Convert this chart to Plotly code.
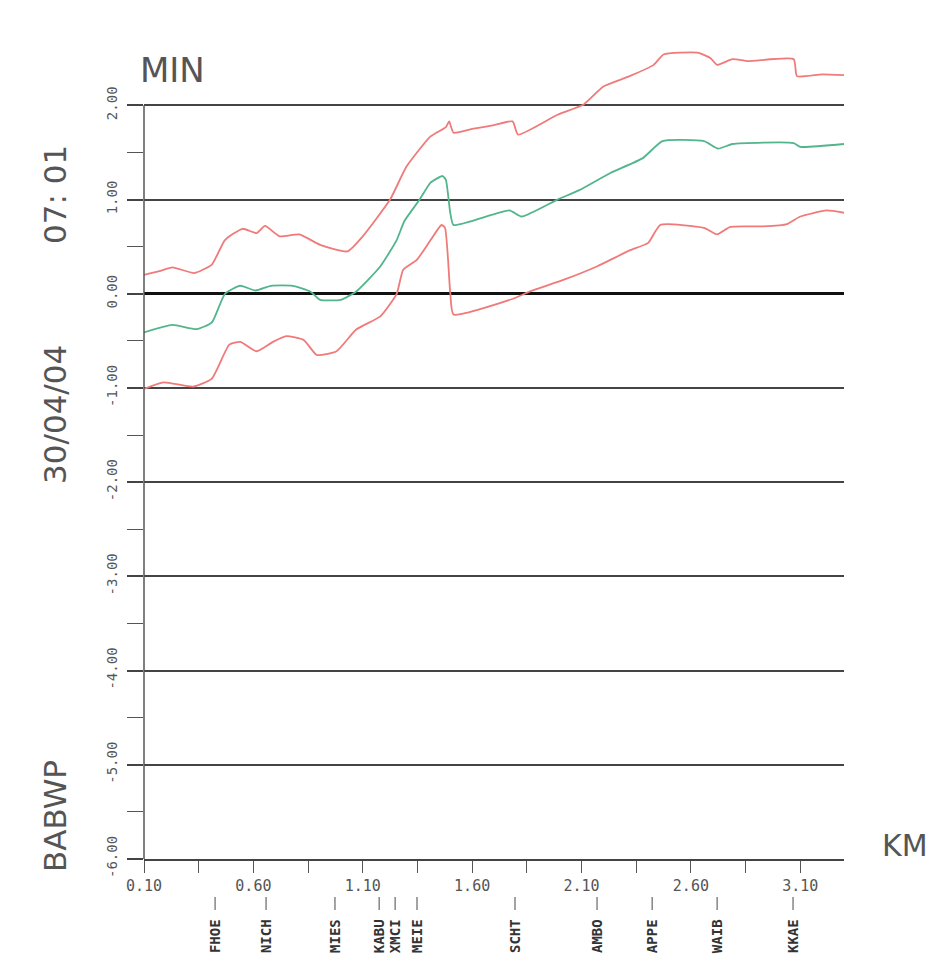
import plotly.graph_objects as go

# Travel-time band along the line (minutes vs. kilometre)
upper_km = [0.10, 0.17, 0.23, 0.33, 0.41, 0.47, 0.55, 0.615, 0.653, 0.72, 0.81, 0.905,
            1.03, 1.10, 1.225, 1.30, 1.41, 1.48, 1.495, 1.515, 1.60, 1.70, 1.785, 1.81,
            1.99, 2.11, 2.20, 2.32, 2.43, 2.475, 2.63, 2.69, 2.72, 2.79, 2.86, 3.07,
            3.085, 3.20, 3.30]
upper_min = [0.20, 0.24, 0.28, 0.22, 0.31, 0.57, 0.69, 0.645, 0.72, 0.61, 0.63, 0.52,
             0.45, 0.61, 1.00, 1.35, 1.67, 1.77, 1.83, 1.71, 1.75, 1.79, 1.83, 1.69,
             1.90, 2.01, 2.20, 2.31, 2.43, 2.54, 2.56, 2.50, 2.43, 2.49, 2.47, 2.49,
             2.31, 2.33, 2.32]

mid_km = [0.10, 0.23, 0.34, 0.41, 0.47, 0.54, 0.61, 0.68, 0.78, 0.86, 0.905, 1.00,
          1.07, 1.18, 1.255, 1.29, 1.36, 1.41, 1.465, 1.48, 1.50, 1.515, 1.77, 1.826,
          1.99, 2.09, 2.23, 2.38, 2.47, 2.66, 2.725, 2.79, 3.07, 3.10, 3.30]
mid_min = [-0.41, -0.33, -0.375, -0.305, 0.0, 0.085, 0.035, 0.085, 0.085, 0.025, -0.064,
           -0.064, 0.025, 0.29, 0.57, 0.77, 1.0, 1.18, 1.25, 1.21, 0.86, 0.73, 0.885,
           0.82, 1.0, 1.10, 1.28, 1.44, 1.62, 1.62, 1.54, 1.59, 1.60, 1.56, 1.59]

lower_km = [0.10, 0.19, 0.325, 0.41, 0.49, 0.54, 0.615, 0.69, 0.75, 0.83, 0.89, 0.98,
            1.07, 1.18, 1.255, 1.285, 1.347, 1.41, 1.46, 1.476, 1.50, 1.515, 1.79,
            1.865, 2.02, 2.17, 2.32, 2.405, 2.46, 2.66, 2.72, 2.78, 2.93, 3.04, 3.10,
            3.22, 3.30]
lower_min = [-1.01, -0.94, -0.985, -0.90, -0.54, -0.51, -0.61, -0.51, -0.45, -0.49,
             -0.65, -0.61, -0.38, -0.24, 0.0, 0.255, 0.36, 0.57, 0.73, 0.70, 0.01,
             -0.22, -0.05, 0.025, 0.15, 0.29, 0.46, 0.54, 0.73, 0.70, 0.63, 0.71,
             0.715, 0.74, 0.82, 0.885, 0.86]

# Stations along the route
station_names = ["FHOE", "NICH", "MIES", "KABU", "XMCI", "MEIE", "SCHT", "AMBO",
                 "APPE", "WAIB", "KKAE"]
station_km = [0.425, 0.658, 0.973, 1.175, 1.248, 1.348, 1.796, 2.171, 2.423, 2.72, 3.067]

# Axis ticks
x_ticks = [0.10, 0.60, 1.10, 1.60, 2.10, 2.60, 3.10]
x_tick_text = ["0.10", "0.60", "1.10", "1.60", "2.10", "2.60", "3.10"]
x_minor = [0.35, 0.85, 1.35, 1.85, 2.35, 2.85]
y_ticks = [-6, -5, -4, -3, -2, -1, 0, 1, 2]
y_tick_text = ["-6.00", "-5.00", "-4.00", "-3.00", "-2.00", "-1.00", "0.00", "1.00", "2.00"]
y_minor = [-5.5, -4.5, -3.5, -2.5, -1.5, -0.5, 0.5, 1.5]

RED = "#f07a7a"
GREEN = "#52b58c"
INK = "#555555"
MONO = "DejaVu Sans Mono"
SANS = "DejaVu Sans"

fig = go.Figure()
for xs, ys, col in [(upper_km, upper_min, RED), (mid_km, mid_min, GREEN),
                    (lower_km, lower_min, RED)]:
    fig.add_trace(go.Scatter(x=xs, y=ys, mode="lines",
                             line=dict(color=col, width=1.8, shape="spline",
                                       smoothing=0.5),
                             hoverinfo="skip"))

# vertical axis line spanning the labelled range
fig.add_shape(type="line", xref="paper", yref="y", x0=0, x1=0, y0=-6, y1=2,
              line=dict(color=INK, width=1.5))

# station markers and names below the distance axis
for name, km in zip(station_names, station_km):
    fig.add_shape(type="line", xref="x", yref="paper", x0=km, x1=km,
                  y0=-0.0458, y1=-0.0615, line=dict(color="#666666", width=1.2))
    fig.add_annotation(x=km, xref="x", y=0, yref="paper", yanchor="top",
                       xanchor="center", yshift=-58, text="<b>%s</b>" % name,
                       textangle=-90, showarrow=False,
                       font=dict(family=MONO, size=14, color="#333333"))

# labels framing the chart
fig.add_annotation(text="MIN", xref="paper", yref="paper", x=0, y=1, xanchor="left",
                   yanchor="middle", xshift=-6, yshift=-40, showarrow=False,
                   font=dict(family=SANS, size=34, color=INK))
for txt, py in [("07: 01", 0.801), ("30/04/04", 0.5356), ("BABWP", 0.0519)]:
    fig.add_annotation(text=txt, xref="paper", yref="paper", x=0, y=py,
                       xanchor="center", yanchor="middle", xshift=-89, textangle=-90,
                       showarrow=False, font=dict(family=SANS, size=31, color=INK))
fig.add_annotation(text="KM", xref="paper", yref="paper", x=1.087, y=0.0157,
                   xanchor="center", yanchor="middle", showarrow=False,
                   font=dict(family=SANS, size=30, color=INK))

fig.update_layout(
    width=937, height=963,
    margin=dict(l=144, r=93, t=30, b=104),
    paper_bgcolor="white", plot_bgcolor="white",
    showlegend=False,
    xaxis=dict(range=[0.10, 3.30], tickmode="array", tickvals=x_ticks,
               ticktext=x_tick_text, ticks="outside", ticklen=12, tickwidth=1.2,
               tickcolor=INK, showgrid=False, zeroline=False,
               showline=True, linecolor="#444444", linewidth=2,
               tickfont=dict(family=MONO, size=15, color=INK),
               minor=dict(tickmode="array", tickvals=x_minor, ticks="outside",
                          ticklen=12, tickwidth=1.2, tickcolor=INK, showgrid=False)),
    yaxis=dict(range=[-6, 2.8], tickmode="array", tickvals=y_ticks,
               ticktext=y_tick_text, ticks="outside", ticklen=16, tickwidth=2,
               tickcolor="#444444", tickangle=-90, ticklabelstandoff=4,
               showgrid=True, gridcolor="#444444", gridwidth=2,
               zeroline=True, zerolinecolor="#111111", zerolinewidth=3,
               showline=False,
               tickfont=dict(family=MONO, size=14, color=INK),
               minor=dict(tickmode="array", tickvals=y_minor, ticks="outside",
                          ticklen=16, tickwidth=1.2, tickcolor=INK, showgrid=False)),
)

fig.write_html("out.html")
